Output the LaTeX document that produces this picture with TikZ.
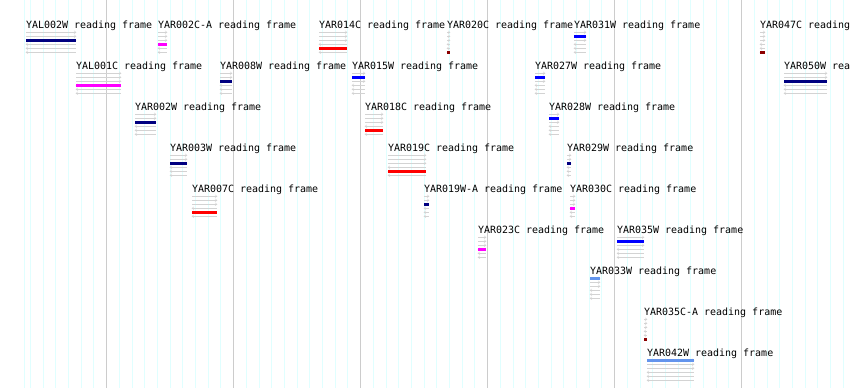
\documentclass[tikz,border=0pt]{standalone}
\usepackage{fontspec}
\setmonofont{DejaVu Sans Mono}
\definecolor{gridminor}{RGB}{224,255,255}
\definecolor{gridmajor}{RGB}{204,204,204}
\definecolor{framegray}{RGB}{211,211,211}
\definecolor{fr1}{RGB}{100,149,237}
\definecolor{fr2}{RGB}{0,0,255}
\definecolor{fr3}{RGB}{0,0,128}
\definecolor{fr4}{RGB}{255,0,255}
\definecolor{fr5}{RGB}{255,0,0}
\definecolor{fr6}{RGB}{139,0,0}
\begin{document}
\begin{tikzpicture}[x=1pt,y=-1pt,
    lbl/.style={anchor=base west,inner sep=0pt,font=\ttfamily\fontsize{9.97}{12}\selectfont}]
      \useasboundingbox (0,0) rectangle (850,388);
      % grid
      \draw[gridminor] (24.3,0)--(24.3,388);
      \foreach \i in {-6,...,58}
        \draw[gridminor] (106.3+12.7*\i,0)--(106.3+12.7*\i,388);
      \foreach \i in {0,...,5}
        \draw[gridmajor] (106.3+127*\i,0)--(106.3+127*\i,388);
      % reading frames: name / start / end / track / frame
      \foreach \name/\xa/\xb/\row/\fr in {
          YAL002W/26/76/1/3, YAR002C-A/158/167/1/4, YAR014C/319/347/1/5,
          YAR020C/447/450/1/6, YAR031W/574/586/1/2, YAR047C/760/765/1/6,
          YAL001C/76/121/2/4, YAR008W/220/232/2/3, YAR015W/352/365/2/2,
          YAR027W/535/545/2/2, YAR050W/784/827/2/3,
          YAR002W/135/156/3/3, YAR018C/365/383/3/5, YAR028W/549/559/3/2,
          YAR003W/170/187/4/3, YAR019C/388/426/4/5, YAR029W/567/571/4/3,
          YAR007C/192/217/5/5, YAR019W-A/424/429/5/3, YAR030C/570/575/5/4,
          YAR023C/478/486/6/4, YAR035W/617/644/6/2,
          YAR033W/590/600/7/1,
          YAR035C-A/644/647/8/6,
          YAR042W/647/694/9/1}{
        \pgfmathsetmacro\yb{28.5+41*(\row-1)}
        \node[lbl] (\name) at (\xa,\yb) {\name\ reading frame};
        \foreach \f in {1,...,6}{
          \pgfmathsetmacro\yf{\yb+3.8+4*(\f-1)}
          \draw[framegray] (\xa,\yf)--(\xb,\yf);
          \ifnum\f<4
            \draw[framegray] (\xb-2,\yf-1.5)--(\xb,\yf)--(\xb-2,\yf+1.5);
          \else
            \draw[framegray] (\xa+2,\yf-1.5)--(\xa,\yf)--(\xa+2,\yf+1.5);
          \fi
        }
        \pgfmathsetmacro\yc{\yb+3.8+4*(\fr-1)}
        \fill[fr\fr] (\xa,\yc-1.5) rectangle (\xb,\yc+1.5);
      }
\end{tikzpicture}
\end{document}
